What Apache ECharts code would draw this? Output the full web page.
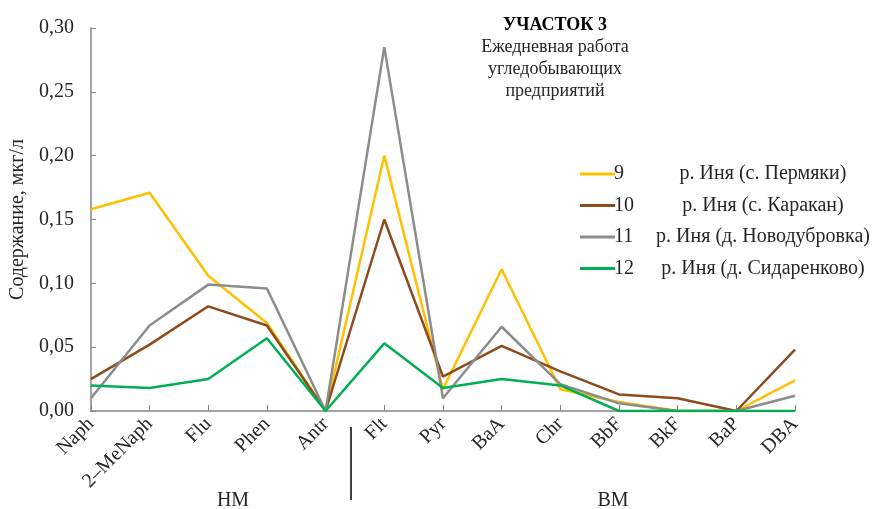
<!DOCTYPE html>
<html>
<head>
<meta charset="utf-8">
<script src="https://cdn.jsdelivr.net/npm/echarts@6/dist/echarts.min.js"></script>
<style>
html,body{margin:0;padding:0;background:#fff;}
#chart{width:877px;height:509px;}
</style>
</head>
<body>
<div id="chart"></div>
<script>
const categories = ['Naph', '2–MeNaph', 'Flu', 'Phen', 'Antr', 'Flt', 'Pyr', 'BaA', 'Chr', 'BbF', 'BkF', 'BaP', 'DBA'];
const seriesNames = ['9', '10', '11', '12'];
const stationNames = ['р. Иня (с. Пермяки)', 'р. Иня (с. Каракан)', 'р. Иня (д. Новодубровка)', 'р. Иня (д. Сидаренково)'];
const s9  = [0.158, 0.171, 0.106, 0.069, 0, 0.200, 0.017, 0.111, 0.017, 0.007, 0, 0, 0.024];
const s10 = [0.025, 0.052, 0.082, 0.067, 0, 0.150, 0.027, 0.051, 0.031, 0.013, 0.010, 0, 0.048];
const s11 = [0.010, 0.067, 0.099, 0.096, 0, 0.285, 0.010, 0.066, 0.021, 0.006, 0, 0, 0.012];
const s12 = [0.020, 0.018, 0.025, 0.057, 0, 0.053, 0.018, 0.025, 0.020, 0, 0, 0, 0];
const groupLabels = ['НМ', 'ВМ'];
const yTicks = {min: 0, max: 0.30, interval: 0.05};

const colors = ['#FFC000', '#8E4A1C', '#8C8C8C', '#00B050'];
const FONT = '"Liberation Serif", "Times New Roman", serif';
const TXT = '#262626';

const chart = echarts.init(document.getElementById('chart'), null, {renderer: 'canvas'});
const allData = [s9, s10, s11, s12];

const option = {
  animation: false,
  backgroundColor: '#fff',
  textStyle: {fontFamily: FONT},
  grid: {left: 89, right: 82, top: 28, bottom: 98, containLabel: false},
  title: {
    text: 'УЧАСТОК 3',
    subtext: 'Ежедневная работа\nугледобывающих\nпредприятий',
    left: 550, top: 11, textAlign: 'center',
    itemGap: 2,
    textStyle: {fontFamily: FONT, fontSize: 18, fontWeight: 'bold', color: '#000'},
    subtextStyle: {fontFamily: FONT, fontSize: 18, color: TXT, lineHeight: 22, align: 'center'}
  },
  legend: {
    orient: 'vertical',
    left: 575, top: 159,
    itemWidth: 35, itemHeight: 3, itemGap: 11.5,
    icon: 'rect',
    data: seriesNames,
    formatter: function (name) {
      const i = seriesNames.indexOf(name);
      return '{n|' + name + '}{s|' + stationNames[i] + '}';
    },
    textStyle: {
      fontFamily: FONT, fontSize: 20, color: TXT, padding: [0, 0, 0, -6],
      rich: {
        n: {fontFamily: FONT, fontSize: 20, color: TXT, width: 34, lineHeight: 20},
        s: {fontFamily: FONT, fontSize: 20, color: TXT, width: 230, align: 'center', lineHeight: 20}
      }
    }
  },
  xAxis: {
    type: 'category',
    data: categories,
    boundaryGap: false,
    axisLine: {lineStyle: {color: '#868686', width: 1.5}},
    axisTick: {inside: true, length: 6, lineStyle: {color: '#868686', width: 1}},
    axisLabel: {rotate: 45, interval: 0, margin: 10, fontFamily: FONT, fontSize: 20, color: TXT},
    splitLine: {show: false}
  },
  yAxis: {
    type: 'value',
    min: yTicks.min, max: yTicks.max, interval: yTicks.interval,
    name: 'Содержание, мкг/л',
    nameLocation: 'middle',
    nameGap: 62,
    nameTextStyle: {fontFamily: FONT, fontSize: 20, color: TXT},
    axisLine: {show: true, lineStyle: {color: '#868686', width: 1.5}},
    axisTick: {show: true, inside: true, length: 5, lineStyle: {color: '#868686'}},
    axisLabel: {
      margin: 17, fontFamily: FONT, fontSize: 20, color: TXT,
      formatter: v => v.toFixed(2).replace('.', ',')
    },
    splitLine: {show: false}
  },
  series: seriesNames.map((n, i) => ({
    name: n,
    type: 'line',
    data: allData[i],
    symbol: 'none',
    color: colors[i],
    lineStyle: {color: colors[i], width: 2.5},
    z: i === 3 ? 5 : 3 + i * 0.1
  }))
};
chart.setOption(option);

// separator and group labels positioned from the axis scale
const xA = chart.convertToPixel({xAxisIndex: 0}, 4);
const xB = chart.convertToPixel({xAxisIndex: 0}, 5);
const sepX = Math.round((xA + xB) / 2) - 4;
chart.setOption({
  graphic: [
    {type: 'line', shape: {x1: sepX, y1: 427, x2: sepX, y2: 500}, style: {stroke: '#404040', lineWidth: 2}},
    {type: 'text', x: 233, y: 501, style: {text: groupLabels[0], fontFamily: FONT, fontSize: 20, fill: TXT, textAlign: 'center', textVerticalAlign: 'middle'}},
    {type: 'text', x: 613, y: 501, style: {text: groupLabels[1], fontFamily: FONT, fontSize: 20, fill: TXT, textAlign: 'center', textVerticalAlign: 'middle'}}
  ]
});
</script>
</body>
</html>
